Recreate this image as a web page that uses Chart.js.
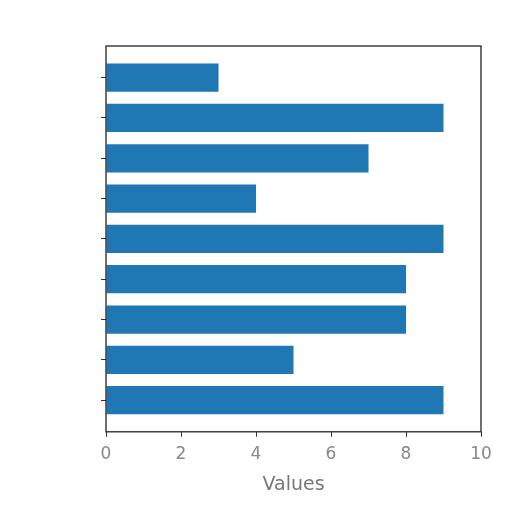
<!DOCTYPE html>
<html>
<head>
<meta charset="utf-8">
<script src="https://cdn.jsdelivr.net/npm/chart.js@4"></script>
<style>
  html, body { margin: 0; padding: 0; background: #fff; }
  #wrap { width: 512px; height: 512px; }
</style>
</head>
<body>
<div id="wrap"><canvas id="myChart" width="512" height="512"></canvas></div>
<script>
// bars from top to bottom
const positions = [0, 1, 2, 3, 4, 5, 6, 7, 8]
const values = [3, 9, 7, 4, 9, 8, 8, 5, 9]
const xTicks = [0, 2, 4, 6, 8, 10]
const xTitle = "Values"
const barColor = "#1f77b4"

const boxPlugin = {
    id: "box",
    afterDraw(chart) {
        const a = chart.chartArea
        const ctx = chart.ctx
        ctx.save()
        ctx.strokeStyle = "#222"
        ctx.lineWidth = 1.3
        ctx.strokeRect(a.left, a.top, a.right - a.left, a.bottom - a.top)
        ctx.restore()
    }
}

new Chart("myChart", {
    type: "bar",
    data: {
        datasets: [{
            data: positions.map((p, i) => ({ x: values[i], y: p })),
            backgroundColor: barColor,
            barPercentage: 0.7,
            categoryPercentage: 1
        }]
    },
    options: {
        indexAxis: "y",
        responsive: false,
        animation: false,
        layout: { padding: { left: 101, right: 31, top: 46, bottom: 16 } },
        plugins: { legend: { display: false }, tooltip: { enabled: false } },
        scales: {
            y: {
                type: "linear",
                reverse: true,
                offset: false,
                min: -0.785,
                max: 8.785,
                afterBuildTicks: (axis) => { axis.ticks = positions.map(v => ({ value: v })) },
                ticks: { display: false },
                grid: { drawOnChartArea: false, drawTicks: true, tickLength: 5, color: "#333", offset: false },
                border: { display: false }
            },
            x: {
                type: "linear",
                min: 0,
                max: 10,
                afterBuildTicks: (axis) => { axis.ticks = xTicks.map(v => ({ value: v })) },
                ticks: { color: "#888", font: { family: "DejaVu Sans", size: 17 }, padding: 8, maxRotation: 0 },
                grid: { drawOnChartArea: false, drawTicks: true, tickLength: 5, color: "#333" },
                border: { display: false },
                title: { display: true, text: xTitle, color: "#777", font: { family: "DejaVu Sans", size: 19 }, padding: { top: 0, bottom: 0 } }
            }
        }
    },
    plugins: [boxPlugin]
})
</script>
</body>
</html>
